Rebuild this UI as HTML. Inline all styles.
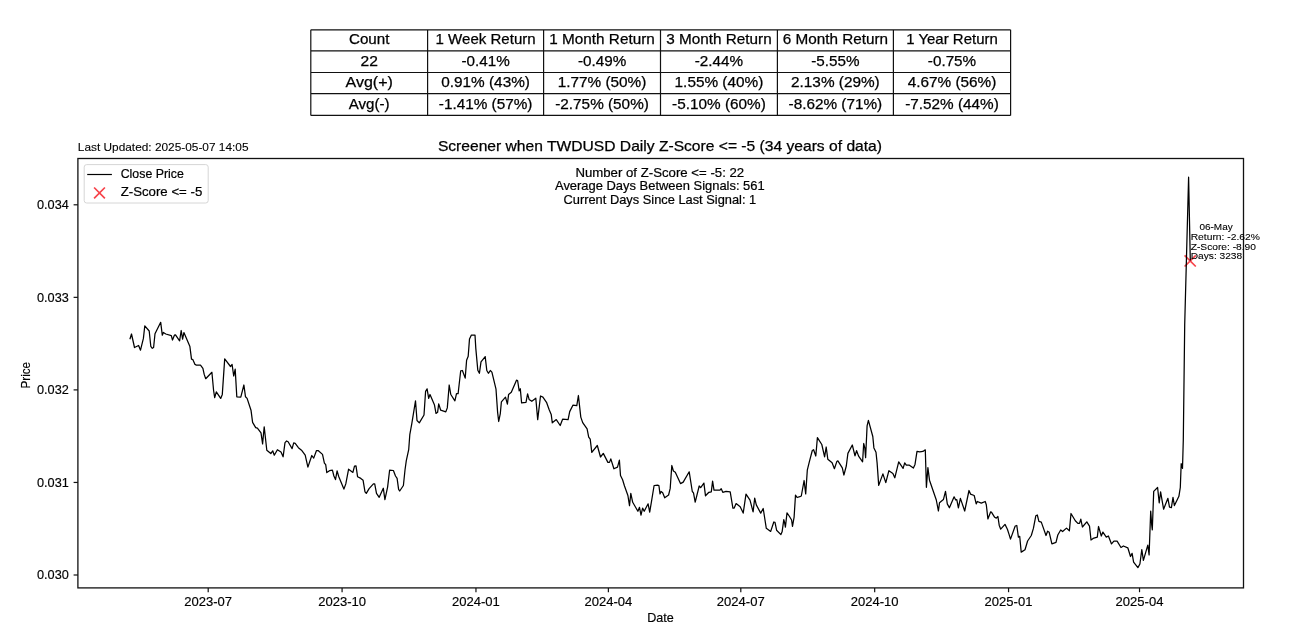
<!DOCTYPE html>
<html><head><meta charset="utf-8"><style>
html,body{margin:0;padding:0;background:#fff;width:1292px;height:634px;overflow:hidden}
svg{display:block;filter:blur(0.4px)}
text{font-family:"Liberation Sans",sans-serif;}
</style></head><body>
<svg width="1292" height="634" viewBox="0 0 1292 634">
<rect x="0" y="0" width="1292" height="634" fill="#fff"/>
<path d="M310.80 29.80V115.40M427.60 29.80V115.40M543.60 29.80V115.40M660.50 29.80V115.40M777.40 29.80V115.40M893.40 29.80V115.40M1010.60 29.80V115.40M310.80 29.80H1010.60M310.80 50.80H1010.60M310.80 72.50H1010.60M310.80 93.60H1010.60M310.80 115.40H1010.60" stroke="#111" stroke-width="1.2" fill="none"/>
<text x="348.93" y="44.30" font-size="14.4" textLength="40.55" lengthAdjust="spacingAndGlyphs" fill="#000" stroke="#000" stroke-width="0.25">Count</text>
<text x="435.57" y="44.30" font-size="14.4" textLength="100.06" lengthAdjust="spacingAndGlyphs" fill="#000" stroke="#000" stroke-width="0.25">1 Week Return</text>
<text x="549.33" y="44.30" font-size="14.4" textLength="105.44" lengthAdjust="spacingAndGlyphs" fill="#000" stroke="#000" stroke-width="0.25">1 Month Return</text>
<text x="666.23" y="44.30" font-size="14.4" textLength="105.44" lengthAdjust="spacingAndGlyphs" fill="#000" stroke="#000" stroke-width="0.25">3 Month Return</text>
<text x="782.68" y="44.30" font-size="14.4" textLength="105.44" lengthAdjust="spacingAndGlyphs" fill="#000" stroke="#000" stroke-width="0.25">6 Month Return</text>
<text x="906.22" y="44.30" font-size="14.4" textLength="91.56" lengthAdjust="spacingAndGlyphs" fill="#000" stroke="#000" stroke-width="0.25">1 Year Return</text>
<text x="360.52" y="65.65" font-size="14.4" textLength="17.37" lengthAdjust="spacingAndGlyphs" fill="#000" stroke="#000" stroke-width="0.25">22</text>
<text x="461.45" y="65.65" font-size="14.4" textLength="48.30" lengthAdjust="spacingAndGlyphs" fill="#000" stroke="#000" stroke-width="0.25">-0.41%</text>
<text x="577.90" y="65.65" font-size="14.4" textLength="48.30" lengthAdjust="spacingAndGlyphs" fill="#000" stroke="#000" stroke-width="0.25">-0.49%</text>
<text x="694.80" y="65.65" font-size="14.4" textLength="48.30" lengthAdjust="spacingAndGlyphs" fill="#000" stroke="#000" stroke-width="0.25">-2.44%</text>
<text x="811.25" y="65.65" font-size="14.4" textLength="48.30" lengthAdjust="spacingAndGlyphs" fill="#000" stroke="#000" stroke-width="0.25">-5.55%</text>
<text x="927.85" y="65.65" font-size="14.4" textLength="48.30" lengthAdjust="spacingAndGlyphs" fill="#000" stroke="#000" stroke-width="0.25">-0.75%</text>
<text x="345.52" y="87.05" font-size="14.4" textLength="47.37" lengthAdjust="spacingAndGlyphs" fill="#000" stroke="#000" stroke-width="0.25">Avg(+)</text>
<text x="441.25" y="87.05" font-size="14.4" textLength="88.69" lengthAdjust="spacingAndGlyphs" fill="#000" stroke="#000" stroke-width="0.25">0.91% (43%)</text>
<text x="557.70" y="87.05" font-size="14.4" textLength="88.69" lengthAdjust="spacingAndGlyphs" fill="#000" stroke="#000" stroke-width="0.25">1.77% (50%)</text>
<text x="674.60" y="87.05" font-size="14.4" textLength="88.69" lengthAdjust="spacingAndGlyphs" fill="#000" stroke="#000" stroke-width="0.25">1.55% (40%)</text>
<text x="791.05" y="87.05" font-size="14.4" textLength="88.69" lengthAdjust="spacingAndGlyphs" fill="#000" stroke="#000" stroke-width="0.25">2.13% (29%)</text>
<text x="907.65" y="87.05" font-size="14.4" textLength="88.69" lengthAdjust="spacingAndGlyphs" fill="#000" stroke="#000" stroke-width="0.25">4.67% (56%)</text>
<text x="348.77" y="108.50" font-size="14.4" textLength="40.86" lengthAdjust="spacingAndGlyphs" fill="#000" stroke="#000" stroke-width="0.25">Avg(-)</text>
<text x="438.79" y="108.50" font-size="14.4" textLength="93.61" lengthAdjust="spacingAndGlyphs" fill="#000" stroke="#000" stroke-width="0.25">-1.41% (57%)</text>
<text x="555.24" y="108.50" font-size="14.4" textLength="93.61" lengthAdjust="spacingAndGlyphs" fill="#000" stroke="#000" stroke-width="0.25">-2.75% (50%)</text>
<text x="672.14" y="108.50" font-size="14.4" textLength="93.61" lengthAdjust="spacingAndGlyphs" fill="#000" stroke="#000" stroke-width="0.25">-5.10% (60%)</text>
<text x="788.59" y="108.50" font-size="14.4" textLength="93.61" lengthAdjust="spacingAndGlyphs" fill="#000" stroke="#000" stroke-width="0.25">-8.62% (71%)</text>
<text x="905.19" y="108.50" font-size="14.4" textLength="93.61" lengthAdjust="spacingAndGlyphs" fill="#000" stroke="#000" stroke-width="0.25">-7.52% (44%)</text>
<path d="M1184.60 255.30L1195.80 266.50M1184.60 266.50L1195.80 255.30" stroke="#f7434a" stroke-width="1.7"/>
<path d="M129.9 339.2 L131.5 334.0 L134.5 347.5 L138.6 345.5 L140.5 350.2 L143.4 338.4 L144.8 325.8 L149.2 331.0 L150.8 346.3 L152.3 348.3 L153.6 347.5 L155.0 333.7 L160.7 322.3 L162.3 335.2 L163.4 332.4 L165.8 334.0 L171.3 335.7 L172.5 340.0 L174.4 335.2 L175.5 334.8 L179.6 340.8 L181.2 330.5 L182.6 339.2 L183.9 332.6 L189.9 346.6 L191.5 359.2 L192.9 359.7 L195.0 364.4 L196.5 365.2 L200.5 365.2 L202.9 368.4 L204.2 374.4 L205.7 378.7 L211.9 372.3 L213.6 390.5 L214.7 397.6 L216.3 391.8 L220.7 398.4 L222.3 394.4 L224.7 358.9 L230.5 366.5 L232.1 364.5 L233.7 376.0 L235.2 369.2 L236.8 396.8 L240.8 397.1 L243.9 385.0 L245.5 396.8 L247.1 398.4 L251.0 410.2 L252.6 422.4 L255.7 427.6 L257.4 428.1 L261.0 432.8 L262.6 443.9 L264.2 426.8 L266.8 450.2 L270.8 453.6 L272.7 450.8 L274.3 455.2 L277.4 449.7 L281.0 452.1 L283.1 456.8 L285.0 442.6 L286.6 441.0 L288.1 441.8 L292.1 448.6 L293.7 442.9 L295.2 443.4 L298.4 447.7 L301.5 450.2 L305.2 455.2 L307.9 467.1 L311.8 455.5 L313.7 458.1 L316.5 450.5 L318.1 450.5 L322.5 454.4 L324.4 463.1 L325.7 464.7 L326.8 472.6 L329.5 470.7 L332.4 470.2 L333.9 476.0 L335.5 479.6 L337.1 470.8 L338.7 476.5 L343.9 489.1 L345.8 483.9 L348.6 469.2 L352.9 472.4 L354.5 466.1 L356.0 465.8 L357.6 476.8 L360.8 478.4 L363.1 480.3 L365.0 491.8 L366.3 493.4 L369.1 488.6 L373.4 483.9 L374.7 483.9 L376.5 493.4 L379.2 497.3 L383.3 488.2 L384.9 499.7 L387.6 487.1 L389.6 470.2 L393.4 470.5 L395.5 476.0 L397.1 478.4 L398.6 489.4 L399.7 491.0 L403.4 485.5 L405.0 470.0 L406.3 460.7 L408.7 449.7 L409.8 434.7 L411.8 423.6 L415.5 400.8 L417.0 420.5 L419.3 422.9 L424.0 415.0 L425.6 391.3 L427.1 388.9 L428.7 398.4 L430.0 394.5 L434.4 404.7 L436.0 413.4 L437.6 412.3 L438.7 403.9 L440.7 410.2 L445.8 411.8 L447.3 407.9 L449.2 385.0 L450.8 394.5 L454.9 400.8 L456.5 393.7 L458.1 393.7 L460.7 370.8 L462.4 370.5 L465.2 378.1 L466.6 360.2 L468.2 356.3 L469.5 338.9 L471.4 335.0 L475.0 335.0 L475.8 348.4 L477.8 370.2 L479.4 373.3 L481.0 361.8 L485.2 356.6 L486.8 370.5 L488.4 373.3 L490.3 370.5 L491.9 372.1 L496.0 389.2 L497.6 412.1 L498.7 421.5 L500.3 413.6 L501.4 401.8 L505.5 397.1 L507.4 404.2 L508.6 394.4 L511.3 392.3 L516.5 380.2 L517.6 380.5 L519.2 390.8 L520.3 388.7 L521.6 402.9 L526.0 402.3 L527.6 393.9 L529.1 399.4 L531.8 401.3 L535.8 398.2 L537.7 419.6 L540.5 396.0 L542.9 397.1 L546.5 402.3 L549.2 409.7 L551.2 414.4 L552.3 422.8 L556.3 419.6 L560.2 425.5 L562.6 419.2 L568.1 419.6 L569.7 411.6 L572.9 405.2 L576.8 405.7 L578.4 395.5 L580.8 417.1 L582.7 422.6 L587.1 428.9 L588.7 437.1 L590.2 439.2 L591.8 452.3 L597.3 445.5 L600.5 457.0 L603.3 453.4 L607.9 462.4 L609.5 462.4 L610.8 458.9 L613.9 468.8 L617.5 467.1 L619.4 460.2 L620.5 475.5 L622.6 479.7 L624.5 486.0 L627.9 495.5 L629.5 505.7 L630.8 493.4 L632.7 502.3 L637.9 511.3 L639.5 507.3 L641.0 515.2 L642.6 508.1 L644.2 511.3 L648.1 503.8 L649.7 512.1 L651.3 502.6 L654.1 485.5 L657.6 485.2 L658.9 485.5 L660.0 493.9 L661.1 491.5 L662.7 492.8 L664.7 497.8 L668.6 495.0 L670.2 488.4 L671.8 465.5 L673.4 471.0 L675.3 472.3 L680.5 483.6 L683.2 482.1 L689.2 471.8 L692.3 491.5 L693.5 492.9 L695.2 502.1 L699.2 486.0 L700.7 487.6 L703.9 483.1 L705.5 495.8 L708.9 492.3 L711.3 491.8 L712.6 481.2 L714.0 490.2 L720.0 490.2 L721.2 488.7 L722.8 492.3 L726.0 491.3 L730.2 491.8 L732.9 508.1 L734.2 508.1 L736.1 503.6 L740.2 506.8 L743.2 513.1 L746.0 494.2 L750.0 500.2 L753.1 511.9 L754.7 498.1 L756.3 504.9 L760.7 513.1 L763.2 508.5 L766.3 528.3 L770.7 531.4 L773.8 522.0 L775.0 522.3 L776.6 530.2 L780.9 534.6 L782.1 531.8 L783.8 519.6 L784.6 522.7 L785.4 527.1 L787.0 512.9 L789.2 516.0 L791.6 520.0 L792.5 526.3 L794.1 517.2 L795.5 495.1 L797.1 497.5 L799.8 496.7 L801.3 496.0 L804.1 480.5 L805.7 493.9 L807.3 470.2 L809.2 462.3 L812.3 450.5 L813.6 449.7 L815.8 456.0 L817.4 437.6 L821.8 444.5 L824.6 456.8 L826.2 447.0 L827.8 459.2 L832.1 462.8 L834.4 468.7 L836.8 461.6 L837.9 460.8 L842.3 467.9 L843.9 475.0 L846.3 466.0 L847.9 453.4 L852.3 445.0 L855.0 455.8 L856.6 450.7 L858.6 456.1 L862.6 461.8 L863.7 443.5 L864.8 447.9 L865.6 457.7 L867.1 425.8 L868.4 420.3 L872.8 436.5 L873.9 447.9 L876.0 452.3 L877.1 462.9 L878.7 485.4 L882.9 473.9 L885.8 482.6 L888.9 470.7 L892.9 473.4 L894.8 477.8 L898.7 461.8 L903.1 468.4 L904.7 462.9 L906.3 465.2 L909.4 465.2 L913.4 468.1 L915.0 464.4 L917.0 451.3 L919.7 451.8 L922.9 451.4 L925.3 449.8 L926.4 487.3 L927.9 467.6 L929.5 480.2 L936.3 500.0 L938.4 511.0 L939.5 502.8 L943.4 499.6 L945.5 491.3 L947.3 503.9 L949.4 507.8 L954.1 496.8 L955.7 500.0 L956.8 499.6 L958.4 507.8 L960.4 498.4 L964.7 511.0 L969.0 490.5 L970.5 494.1 L974.2 495.5 L976.2 503.9 L977.3 501.5 L981.3 503.1 L985.2 501.5 L986.3 504.7 L987.9 518.9 L990.7 511.8 L991.6 512.3 L994.7 517.3 L996.3 518.1 L997.9 516.5 L999.2 525.2 L1000.7 529.2 L1005.0 524.4 L1007.4 529.2 L1008.9 533.9 L1010.5 539.1 L1015.2 526.0 L1016.8 525.5 L1018.4 537.1 L1019.7 536.3 L1021.2 552.1 L1025.0 549.7 L1027.6 541.0 L1031.3 535.5 L1033.4 528.4 L1035.8 515.8 L1037.3 515.0 L1038.9 521.3 L1041.3 522.1 L1046.0 535.5 L1047.6 531.2 L1049.2 532.3 L1051.9 543.8 L1056.0 542.3 L1057.8 535.0 L1060.7 530.0 L1062.6 531.5 L1066.5 528.1 L1069.4 530.8 L1071.0 513.5 L1075.3 520.7 L1077.9 523.4 L1079.5 523.4 L1080.8 519.1 L1082.4 527.0 L1086.8 521.8 L1089.5 526.1 L1091.0 540.0 L1093.1 538.4 L1097.3 537.1 L1098.5 526.5 L1101.3 536.0 L1102.9 532.1 L1106.3 537.1 L1108.4 536.0 L1111.5 543.9 L1113.9 541.2 L1117.1 541.2 L1121.0 547.5 L1123.4 546.0 L1127.8 547.8 L1130.5 556.5 L1132.1 553.4 L1133.6 562.1 L1137.9 567.6 L1139.9 564.0 L1141.8 549.6 L1143.4 560.4 L1147.8 545.1 L1149.1 554.9 L1150.7 511.1 L1151.7 524.9 L1152.3 529.8 L1153.7 491.4 L1157.6 487.5 L1159.2 502.8 L1160.6 491.8 L1163.6 509.2 L1167.9 498.3 L1169.5 507.2 L1171.4 507.6 L1173.0 497.3 L1174.4 505.6 L1177.1 500.0 L1178.9 496.3 L1180.3 487.5 L1181.2 463.7 L1182.5 468.4 L1183.3 440.0 L1184.7 325.0 L1188.6 177.2 L1190.3 260.6" stroke="#000" stroke-width="1.25" fill="none" stroke-linejoin="round"/>
<rect x="77.9" y="158.5" width="1165.6" height="429.4" stroke="#111" stroke-width="1.3" fill="none"/>
<path d="M73.6 575.00H77.9" stroke="#111" stroke-width="1.2"/>
<text x="37.02" y="579.40" font-size="11.9" textLength="31.79" lengthAdjust="spacingAndGlyphs" fill="#000" stroke="#000" stroke-width="0.15">0.030</text>
<path d="M73.6 482.45H77.9" stroke="#111" stroke-width="1.2"/>
<text x="37.02" y="486.85" font-size="11.9" textLength="31.79" lengthAdjust="spacingAndGlyphs" fill="#000" stroke="#000" stroke-width="0.15">0.031</text>
<path d="M73.6 389.90H77.9" stroke="#111" stroke-width="1.2"/>
<text x="37.02" y="394.30" font-size="11.9" textLength="31.79" lengthAdjust="spacingAndGlyphs" fill="#000" stroke="#000" stroke-width="0.15">0.032</text>
<path d="M73.6 297.35H77.9" stroke="#111" stroke-width="1.2"/>
<text x="37.02" y="301.75" font-size="11.9" textLength="31.79" lengthAdjust="spacingAndGlyphs" fill="#000" stroke="#000" stroke-width="0.15">0.033</text>
<path d="M73.6 204.80H77.9" stroke="#111" stroke-width="1.2"/>
<text x="37.02" y="209.20" font-size="11.9" textLength="31.79" lengthAdjust="spacingAndGlyphs" fill="#000" stroke="#000" stroke-width="0.15">0.034</text>
<path d="M208.20 587.9V592.2" stroke="#111" stroke-width="1.2"/>
<text x="184.28" y="605.60" font-size="11.9" textLength="47.84" lengthAdjust="spacingAndGlyphs" fill="#000" stroke="#000" stroke-width="0.15">2023-07</text>
<path d="M342.08 587.9V592.2" stroke="#111" stroke-width="1.2"/>
<text x="318.16" y="605.60" font-size="11.9" textLength="47.84" lengthAdjust="spacingAndGlyphs" fill="#000" stroke="#000" stroke-width="0.15">2023-10</text>
<path d="M475.96 587.9V592.2" stroke="#111" stroke-width="1.2"/>
<text x="452.04" y="605.60" font-size="11.9" textLength="47.84" lengthAdjust="spacingAndGlyphs" fill="#000" stroke="#000" stroke-width="0.15">2024-01</text>
<path d="M608.38 587.9V592.2" stroke="#111" stroke-width="1.2"/>
<text x="584.46" y="605.60" font-size="11.9" textLength="47.84" lengthAdjust="spacingAndGlyphs" fill="#000" stroke="#000" stroke-width="0.15">2024-04</text>
<path d="M740.80 587.9V592.2" stroke="#111" stroke-width="1.2"/>
<text x="716.88" y="605.60" font-size="11.9" textLength="47.84" lengthAdjust="spacingAndGlyphs" fill="#000" stroke="#000" stroke-width="0.15">2024-07</text>
<path d="M874.68 587.9V592.2" stroke="#111" stroke-width="1.2"/>
<text x="850.76" y="605.60" font-size="11.9" textLength="47.84" lengthAdjust="spacingAndGlyphs" fill="#000" stroke="#000" stroke-width="0.15">2024-10</text>
<path d="M1008.56 587.9V592.2" stroke="#111" stroke-width="1.2"/>
<text x="984.64" y="605.60" font-size="11.9" textLength="47.84" lengthAdjust="spacingAndGlyphs" fill="#000" stroke="#000" stroke-width="0.15">2025-01</text>
<path d="M1139.53 587.9V592.2" stroke="#111" stroke-width="1.2"/>
<text x="1115.61" y="605.60" font-size="11.9" textLength="47.84" lengthAdjust="spacingAndGlyphs" fill="#000" stroke="#000" stroke-width="0.15">2025-04</text>
<text x="647.20" y="622.00" font-size="11.9" textLength="26.60" lengthAdjust="spacingAndGlyphs" fill="#000" stroke="#000" stroke-width="0.15">Date</text>
<g transform="translate(29.9 375.2) rotate(-90)"><text x="-13.30" y="0.00" font-size="11.9" textLength="26.60" lengthAdjust="spacingAndGlyphs" fill="#000" stroke="#000" stroke-width="0.15">Price</text></g>
<text x="437.90" y="151.20" font-size="14.8" textLength="444.09" lengthAdjust="spacingAndGlyphs" fill="#000" stroke="#000" stroke-width="0.25">Screener when TWDUSD Daily Z-Score &lt;= -5 (34 years of data)</text>
<text x="77.80" y="151.10" font-size="11.1" textLength="170.70" lengthAdjust="spacingAndGlyphs" fill="#000" stroke="#000" stroke-width="0.1">Last Updated: 2025-05-07 14:05</text>
<text x="575.40" y="176.90" font-size="12.2" textLength="168.80" lengthAdjust="spacingAndGlyphs" fill="#000" stroke="#000" stroke-width="0.2">Number of Z-Score &lt;= -5: 22</text>
<text x="555.00" y="189.90" font-size="12.2" textLength="209.70" lengthAdjust="spacingAndGlyphs" fill="#000" stroke="#000" stroke-width="0.2">Average Days Between Signals: 561</text>
<text x="563.50" y="203.60" font-size="12.2" textLength="192.71" lengthAdjust="spacingAndGlyphs" fill="#000" stroke="#000" stroke-width="0.2">Current Days Since Last Signal: 1</text>
<rect x="84.2" y="164.6" width="124" height="38.4" rx="2.5" ry="2.5" fill="#fff" fill-opacity="0.8" stroke="#d6d6d6" stroke-width="1"/>
<path d="M87.2 174.5H111.9" stroke="#000" stroke-width="1.2"/>
<text x="120.70" y="177.90" font-size="12.2" textLength="63.10" lengthAdjust="spacingAndGlyphs" fill="#000" stroke="#000" stroke-width="0.2">Close Price</text>
<path d="M94.10 187.50L104.90 198.30M94.10 198.30L104.90 187.50" stroke="#f7434a" stroke-width="1.7"/>
<text x="120.70" y="196.00" font-size="12.2" textLength="81.60" lengthAdjust="spacingAndGlyphs" fill="#000" stroke="#000" stroke-width="0.2">Z-Score &lt;= -5</text>
<text x="1199.40" y="230.30" font-size="9.75" textLength="33.30" lengthAdjust="spacingAndGlyphs" fill="#000" stroke="#000" stroke-width="0.1">06-May</text>
<text x="1190.70" y="240.40" font-size="9.75" textLength="69.20" lengthAdjust="spacingAndGlyphs" fill="#000" stroke="#000" stroke-width="0.1">Return: -2.62%</text>
<text x="1190.70" y="249.60" font-size="9.75" textLength="65.30" lengthAdjust="spacingAndGlyphs" fill="#000" stroke="#000" stroke-width="0.1">Z-Score: -8.90</text>
<text x="1190.70" y="259.30" font-size="9.75" textLength="51.50" lengthAdjust="spacingAndGlyphs" fill="#000" stroke="#000" stroke-width="0.1">Days: 3238</text>
</svg></body></html>
